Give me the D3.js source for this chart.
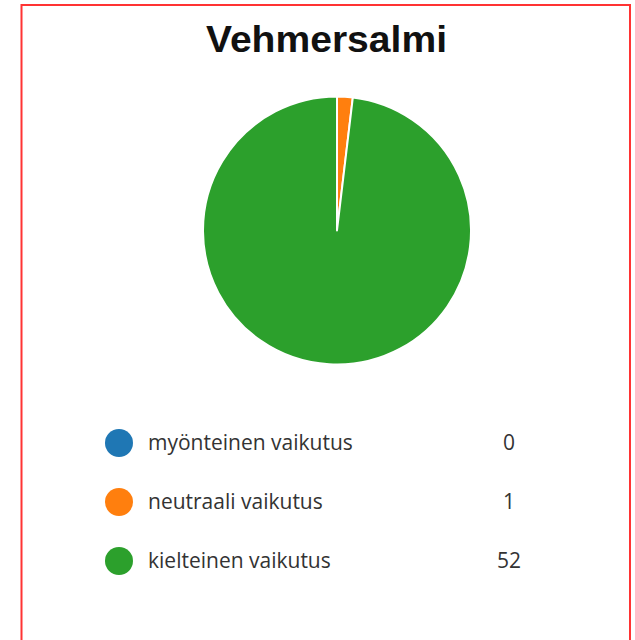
<!DOCTYPE html>
<html>
<head>
<meta charset="utf-8">
<script src="https://cdn.jsdelivr.net/npm/d3@7"></script>
<style>
  html, body { margin: 0; padding: 0; background: #fff; }
  svg { display: block; }
</style>
</head>
<body>
<svg width="635" height="640"></svg>
<script>
const title = "Vehmersalmi";
const categories = ["myönteinen vaikutus", "neutraali vaikutus", "kielteinen vaikutus"];
const values = [0, 1, 52];
const colors = ["#1f77b4", "#ff7f0e", "#2ca02c"];

const svg = d3.select("svg");
const width = 635, height = 640;

// frame
svg.append("rect")
    .attr("x", 21.5)
    .attr("y", 5)
    .attr("width", 608.5)
    .attr("height", 660)
    .attr("fill", "none")
    .attr("stroke", "#f33")
    .attr("stroke-width", 2);

svg.append("text")
    .attr("x", 326.5)
    .attr("y", 52)
    .attr("text-anchor", "middle")
    .attr("textLength", 241)
    .attr("lengthAdjust", "spacingAndGlyphs")
    .style("font-family", "'Liberation Sans', Arial, sans-serif")
    .style("font-weight", "bold")
    .style("font-size", "37px")
    .style("fill", "#111")
    .text(title);

const data = categories.map((c, i) => ({ name: c, value: values[i], color: colors[i] }));

const radius = 134;
const g = svg.append("g")
    .attr("transform", `translate(337, 230.5)`);

const pie = d3.pie()
    .sort(null)
    .value(d => d.value);

const arc = d3.arc()
    .innerRadius(0)
    .outerRadius(radius);

g.selectAll("path")
    .data(pie(data).filter(d => d.data.value > 0))
    .enter().append("path")
    .attr("d", arc)
    .attr("fill", d => d.data.color)
    .attr("stroke", "#fff")
    .attr("stroke-width", 2)
    .attr("stroke-linejoin", "round");

// legend
const y = d3.scaleBand()
    .domain(categories)
    .range([413.5, 590.5]);

const legend = svg.append("g");
const rows = legend.selectAll("g")
    .data(data)
    .enter().append("g")
    .attr("transform", d => `translate(0, ${y(d.name) + y.bandwidth() / 2})`);

rows.append("circle")
    .attr("cx", 119)
    .attr("cy", 0)
    .attr("r", 14)
    .attr("fill", d => d.color);

rows.append("text")
    .attr("x", 148)
    .attr("y", 0)
    .attr("dy", "0.35em")
    .style("font-family", "'Open Sans', 'Noto Sans', sans-serif")
    .style("font-size", "21px")
    .style("fill", "#333")
    .text(d => d.name);

rows.append("text")
    .attr("x", 509)
    .attr("y", 0)
    .attr("dy", "0.35em")
    .attr("text-anchor", "middle")
    .style("font-family", "'Open Sans', 'Noto Sans', sans-serif")
    .style("font-size", "21px")
    .style("fill", "#333")
    .text(d => d.value);
</script>
</body>
</html>
